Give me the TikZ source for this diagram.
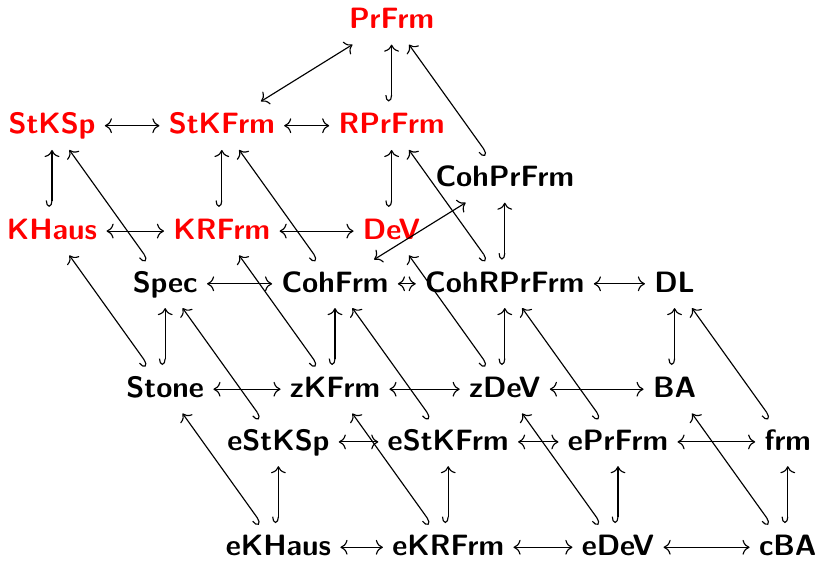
\documentclass[tikz,border=0pt]{standalone}
\usetikzlibrary{arrows.meta}
\begin{document}
\begin{tikzpicture}[x=0.35pt,y=-0.35pt,
  obj/.style={font=\fontsize{10.3}{12}\sffamily\bfseries, inner xsep=3.1pt, inner ysep=3.4pt, text height=7.8pt, text depth=2pt},
  robj/.style={obj, text=red},
  bi/.style={{Computer Modern Rightarrow}-{Computer Modern Rightarrow}},
  inc/.style={{Hooks[right,length=2.2pt,width=4.4pt]}-{Computer Modern Rightarrow}}]
\useasboundingbox (0,0) rectangle (818,561);
% row 0
\node[robj] (PrFrm) at (391.6,20.3) {PrFrm};
% row 2
\node[robj] (StKSp) at (52,125.7) {StKSp};
\node[robj] (StKFrm) at (221.8,125.7) {StKFrm};
\node[robj] (RPrFrm) at (391.6,125.7) {RPrFrm};
% row 3
\node[obj] (CohPrFrm) at (504.8,178.4) {CohPrFrm};
% row 4
\node[robj] (KHaus) at (52,231.1) {KHaus};
\node[robj] (KRFrm) at (221.8,231.1) {KRFrm};
\node[robj] (DeV) at (391.6,231.1) {DeV};
% row 5
\node[obj] (Spec) at (165.2,283.8) {Spec};
\node[obj] (CohFrm) at (335,283.8) {CohFrm};
\node[obj] (CohRPrFrm) at (504.8,283.8) {CohRPrFrm};
\node[obj] (DL) at (674.6,283.8) {DL};
% row 7
\node[obj] (Stone) at (165.2,389.2) {Stone};
\node[obj] (zKFrm) at (335,389.2) {zKFrm};
\node[obj] (zDeV) at (504.8,389.2) {zDeV};
\node[obj] (BA) at (674.6,389.2) {BA};
% row 8
\node[obj] (eStKSp) at (278.4,441.9) {eStKSp};
\node[obj] (eStKFrm) at (448.2,441.9) {eStKFrm};
\node[obj] (ePrFrm) at (618,441.9) {ePrFrm};
\node[obj] (frm) at (787.8,441.9) {frm};
% row 10
\node[obj] (eKHaus) at (278.4,547.3) {eKHaus};
\node[obj] (eKRFrm) at (448.2,547.3) {eKRFrm};
\node[obj] (eDeV) at (618,547.3) {eDeV};
\node[obj] (cBA) at (787.8,547.3) {cBA};

% horizontal equivalences
\draw[bi] (StKSp) -- (StKFrm);
\draw[bi] (StKFrm) -- (RPrFrm);
\draw[bi] (KHaus) -- (KRFrm);
\draw[bi] (KRFrm) -- (DeV);
\draw[bi] (Spec) -- (CohFrm);
\draw[bi] (CohFrm) -- (CohRPrFrm);
\draw[bi] (CohRPrFrm) -- (DL);
\draw[bi] (Stone) -- (zKFrm);
\draw[bi] (zKFrm) -- (zDeV);
\draw[bi] (zDeV) -- (BA);
\draw[bi] (eStKSp) -- (eStKFrm);
\draw[bi] (eStKFrm) -- (ePrFrm);
\draw[bi] (ePrFrm) -- (frm);
\draw[bi] (eKHaus) -- (eKRFrm);
\draw[bi] (eKRFrm) -- (eDeV);
\draw[bi] (eDeV) -- (cBA);
\draw[bi] (StKFrm) -- (PrFrm);
\draw[bi] (CohFrm) -- (CohPrFrm);

% inclusions
\draw[inc] (RPrFrm) -- (PrFrm);
\draw[inc] (CohPrFrm) -- (PrFrm);
\draw[inc] (KHaus) -- (StKSp);
\draw[inc] (KRFrm) -- (StKFrm);
\draw[inc] (DeV) -- (RPrFrm);
\draw[inc] (Spec) -- (StKSp);
\draw[inc] (CohFrm) -- (StKFrm);
\draw[inc] (CohRPrFrm) -- (RPrFrm);
\draw[inc] (CohRPrFrm) -- (CohPrFrm);
\draw[inc] (Stone) -- (KHaus);
\draw[inc] (Stone) -- (Spec);
\draw[inc] (eStKSp) -- (Spec);
\draw[inc] (zKFrm) -- (KRFrm);
\draw[inc] (zKFrm) -- (CohFrm);
\draw[inc] (eStKFrm) -- (CohFrm);
\draw[inc] (zDeV) -- (DeV);
\draw[inc] (zDeV) -- (CohRPrFrm);
\draw[inc] (ePrFrm) -- (CohRPrFrm);
\draw[inc] (BA) -- (DL);
\draw[inc] (frm) -- (DL);
\draw[inc] (eKHaus) -- (Stone);
\draw[inc] (eKHaus) -- (eStKSp);
\draw[inc] (eKRFrm) -- (zKFrm);
\draw[inc] (eKRFrm) -- (eStKFrm);
\draw[inc] (eDeV) -- (zDeV);
\draw[inc] (eDeV) -- (ePrFrm);
\draw[inc] (cBA) -- (BA);
\draw[inc] (cBA) -- (frm);
\end{tikzpicture}
\end{document}
